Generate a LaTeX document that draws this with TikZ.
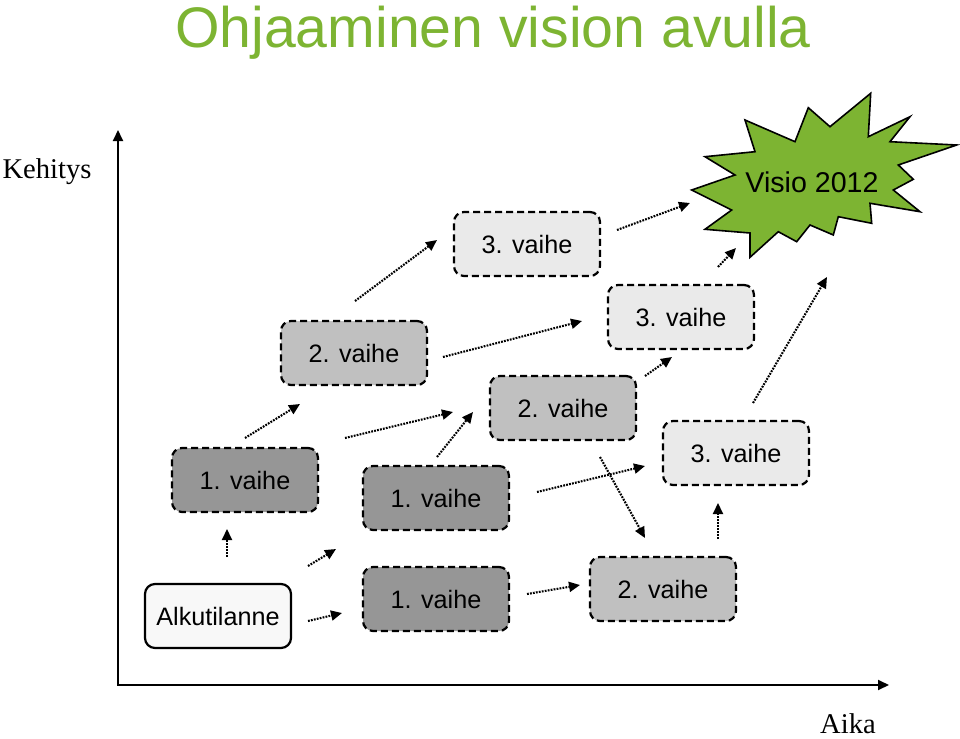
\documentclass[tikz,border=0pt]{standalone}
\usepackage{fontspec}
\setmainfont{Liberation Sans}
\newfontfamily\timesfont{Liberation Serif}
\usetikzlibrary{arrows.meta, positioning}
\definecolor{stagedark}{RGB}{150,150,150}
\definecolor{stagemid}{RGB}{192,192,192}
\definecolor{stagelight}{RGB}{234,234,234}
\definecolor{startgray}{RGB}{248,248,248}
\definecolor{visiogreen}{RGB}{125,180,50}

\begin{document}
\begin{tikzpicture}[x=0.5pt, y=-0.5pt,
  sbox/.style={draw, line width=1.1pt, dash pattern=on 3.5pt off 2pt, rounded corners=5pt, minimum width=73pt, minimum height=32pt, inner sep=0pt, font=\fontsize{12.6}{14}\selectfont},
  flow/.style={line width=1.05pt, dash pattern=on 0.9pt off 0.6pt, -{Triangle[length=5.5pt, width=5pt]}},
  axis/.style={line width=1pt, -{Triangle[length=5.5pt, width=5pt]}}
]
  \useasboundingbox (0,0) rectangle (960,739);

  % title and axes
  \node[anchor=base, text=visiogreen, font=\fontsize{28.6}{32}\selectfont] (title) at (493,47) {Ohjaaminen vision avulla};
  \coordinate (orig) at (118,685);
  \coordinate (ytip) at (118,130);
  \coordinate (xtip) at (889,685);
  \draw[axis] (orig) -- (ytip);
  \draw[axis] ([xshift=-0.5pt]orig) -- (xtip);
  \node[anchor=base, font=\timesfont\fontsize{14.3}{16}\selectfont] (ylab) at (47,178) {Kehitys};
  \node[anchor=base, font=\timesfont\fontsize{14.3}{16}\selectfont] (xlab) at (848,733) {Aika};

  % vision star
  \draw[line width=0.8pt, fill=visiogreen, line join=miter]
    (870.7,93.3) -- (868.3,136.7) -- (910,116.7) -- (890,141.7) -- (956.7,145)
    -- (898.3,165) -- (913.3,179.3) -- (893.3,190) -- (920,211.7) -- (870,203.3)
    -- (871.7,223.3) -- (838.3,216.7) -- (833.3,235) -- (810,225) -- (796.7,241.7)
    -- (778.3,231.7) -- (750,257.3) -- (750,233) -- (705,229.3) -- (731.7,210)
    -- (691.7,190) -- (735,175) -- (705,156.7) -- (755,151.7) -- (745,120)
    -- (795,141.7) -- (808.3,107.7) -- (830,126.7) -- cycle;
  \node[anchor=base, font=\fontsize{14.3}{16}\selectfont] (visio) at (812,192) {Visio 2012};

  % stages
  \node[sbox, solid, fill=startgray] (alku) at (218,616) {Alkutilanne};
  \node[sbox, fill=stagedark] (v1a) at (245,480) {1. vaihe};
  \node[sbox, fill=stagemid] (v2a) at (354,353) {2. vaihe};
  \node[sbox, fill=stagelight] (v3a) at (527,244) {3. vaihe};
  \node[sbox, fill=stagedark] (v1b) at (436,498) {1. vaihe};
  \node[sbox, fill=stagemid] (v2b) at (563,408) {2. vaihe};
  \node[sbox, fill=stagelight] (v3b) at (681,317) {3. vaihe};
  \node[sbox, fill=stagedark] (v1c) at (436,599) {1. vaihe};
  \node[sbox, fill=stagemid] (v2c) at (663,589) {2. vaihe};
  \node[sbox, fill=stagelight] (v3c) at (736,453) {3. vaihe};

  % flow arrows
  \coordinate (a1) at (227,557); \coordinate (b1) at (227,529);
  \coordinate (a2) at (308,566); \coordinate (b2) at (336,549);
  \coordinate (a3) at (308,621); \coordinate (b3) at (342,613);
  \coordinate (a4) at (245,438); \coordinate (b4) at (300,404);
  \coordinate (a5) at (345,438); \coordinate (b5) at (453,412);
  \coordinate (a6) at (437,457); \coordinate (b6) at (473,412);
  \coordinate (a7) at (355,301); \coordinate (b7) at (437,240);
  \coordinate (a8) at (443,357); \coordinate (b8) at (582,321);
  \coordinate (a9) at (617,230); \coordinate (b9) at (690,203);
  \coordinate (a10) at (718,267); \coordinate (b10) at (736,248);
  \coordinate (a11) at (645,376); \coordinate (b11) at (672,357);
  \coordinate (a12) at (753,403); \coordinate (b12) at (827,277);
  \coordinate (a13) at (537,492); \coordinate (b13) at (645,466);
  \coordinate (a14) at (600,457); \coordinate (b14) at (645,538);
  \coordinate (a15) at (718,539); \coordinate (b15) at (718,503);
  \coordinate (a16) at (527,594); \coordinate (b16) at (580,585);
  \draw[flow] (a1) -- (b1);
  \draw[flow] (a2) -- (b2);
  \draw[flow] (a3) -- (b3);
  \draw[flow] (a4) -- (b4);
  \draw[flow] (a5) -- (b5);
  \draw[flow] (a6) -- (b6);
  \draw[flow] (a7) -- (b7);
  \draw[flow] (a8) -- (b8);
  \draw[flow] (a9) -- (b9);
  \draw[flow] (a10) -- (b10);
  \draw[flow] (a11) -- (b11);
  \draw[flow] (a12) -- (b12);
  \draw[flow] (a13) -- (b13);
  \draw[flow] (a14) -- (b14);
  \draw[flow] (a15) -- (b15);
  \draw[flow] (a16) -- (b16);
\end{tikzpicture}
\end{document}
